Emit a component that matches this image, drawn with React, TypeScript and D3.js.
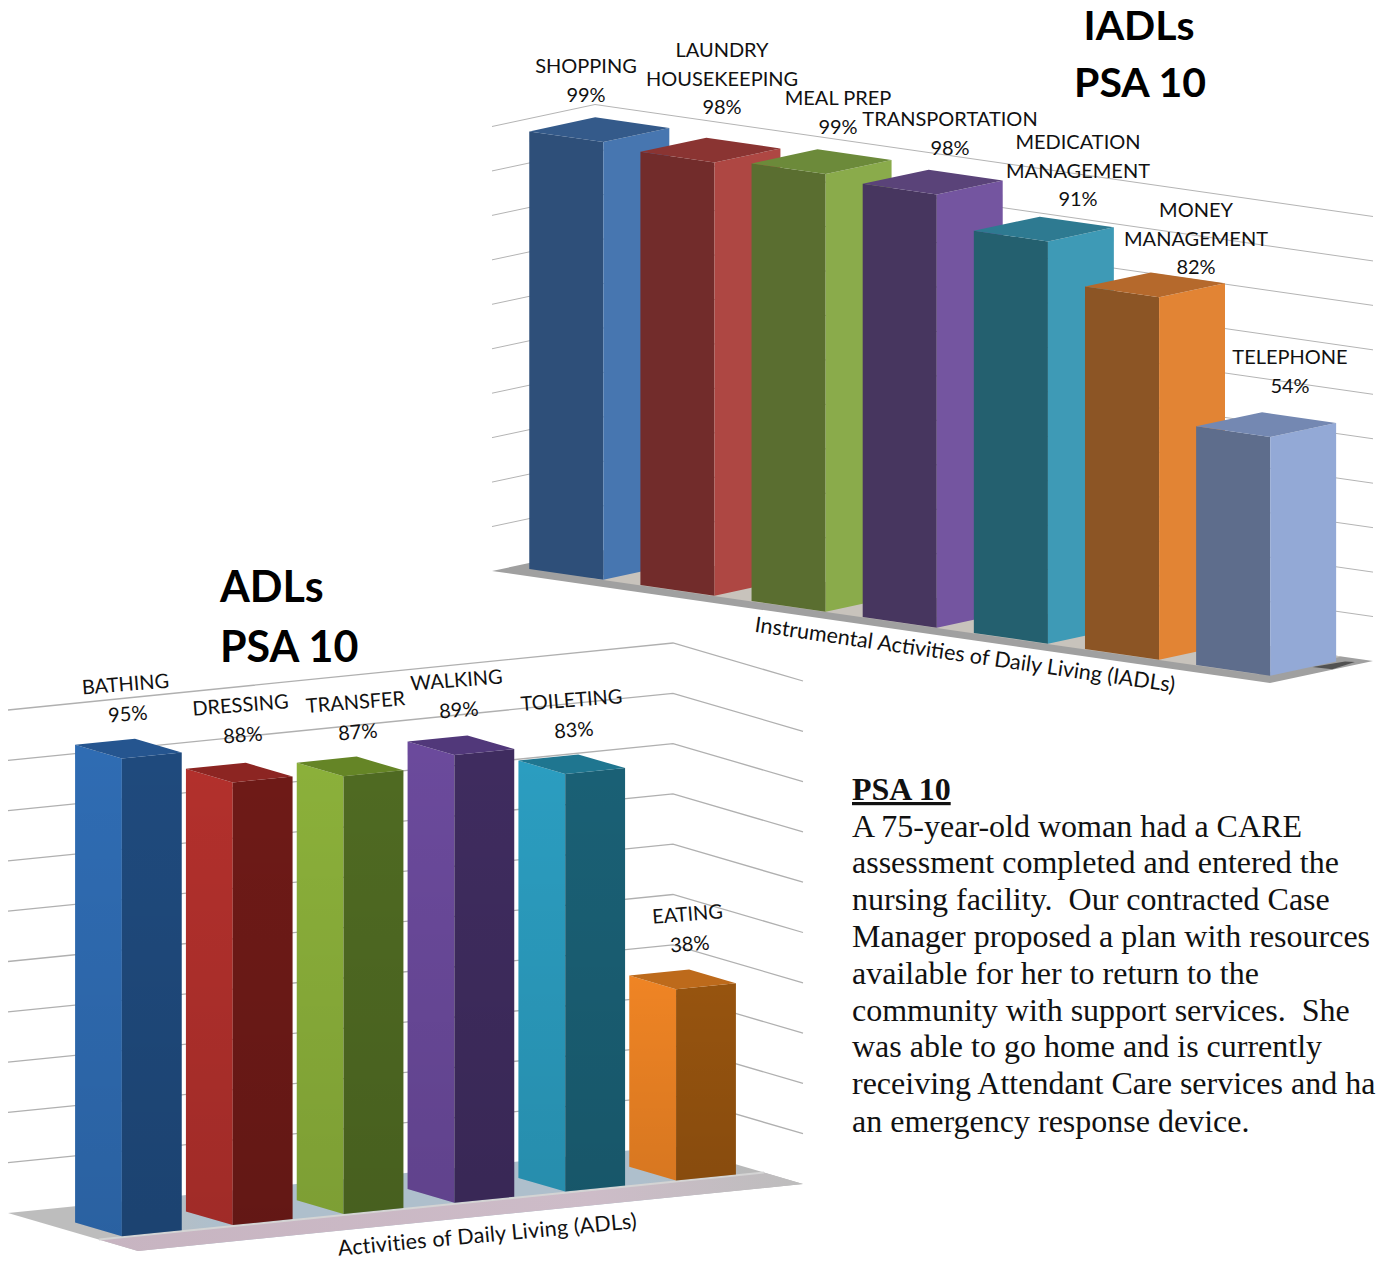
import React from "react";
import * as d3 from "d3";

// Instrumental activities
const iadlCategories = ["SHOPPING", "LAUNDRY HOUSEKEEPING", "MEAL PREP", "TRANSPORTATION", "MEDICATION MANAGEMENT", "MONEY MANAGEMENT", "TELEPHONE"];
const iadlValues = [99, 98, 99, 98, 91, 82, 54];
const iadlLabelLines = [["SHOPPING"], ["LAUNDRY", "HOUSEKEEPING"], ["MEAL PREP"], ["TRANSPORTATION"], ["MEDICATION", "MANAGEMENT"], ["MONEY", "MANAGEMENT"], ["TELEPHONE"]];
const iadlLabelAt = [[586, 73], [722, 57], [838, 105], [950, 126], [1078, 149], [1196, 217], [1290, 364]];
const iadlPalette = [
  ["#2e4f79", "#4776b0", "#345a8a"],
  ["#722c2b", "#ae4743", "#8a3432"],
  ["#5a6e30", "#8aab4b", "#6c8a3a"],
  ["#47365f", "#7455a0", "#5a4379"],
  ["#24606f", "#3e9ab6", "#2e7a91"],
  ["#8c5525", "#e28434", "#b5692c"],
  ["#5e6d8c", "#93a9d6", "#7488b2"],
];

// Basic activities
const adlCategories = ["BATHING", "DRESSING", "TRANSFER", "WALKING", "TOILETING", "EATING"];
const adlValues = [95, 88, 87, 89, 83, 38];
const adlLabelLines = adlCategories.map((c) => [c]);
const adlLabelAt = [[126, 691], [241, 712], [356, 709], [457, 687], [572, 707], [688, 921]];
const adlPalette = [
  ["#2f6cb3", "#1f4a7d", "#25558f"],
  ["#b2302c", "#6e1a17", "#8c2522"],
  ["#8bb03a", "#4f6a22", "#658526"],
  ["#6b4a9c", "#3f2c5f", "#51387a"],
  ["#2b9dc0", "#1a6075", "#1f7690"],
  ["#ef8424", "#97540f", "#bd6a1b"],
];

const bodyLines = [
  "A 75-year-old woman had a CARE",
  "assessment completed and entered the",
  "nursing facility.  Our contracted Case",
  "Manager proposed a plan with resources",
  "available for her to return to the",
  "community with support services.  She",
  "was able to go home and is currently",
  "receiving Attendant Care services and ha",
  "an emergency response device.",
];
const bodyBaselines = [837, 873, 910, 947, 984, 1021, 1057, 1094, 1132];

const LABEL_FONT = "Lato, Carlito, sans-serif";
type Pt = [number, number];

// Oblique floor plane: u runs along the categories, d runs across the depth.
function makePlane(origin: Pt, uAxis: Pt, dAxis: Pt, wallHeight: number, barHeight: number) {
  const rise = d3.scaleLinear().domain([0, 100]).range([0, wallHeight]);
  const barRise = d3.scaleLinear().domain([0, 100]).range([0, barHeight]);
  const at = (u: number, d: number, lift: number): Pt => [
    origin[0] + u * uAxis[0] + d * dAxis[0],
    origin[1] + u * uAxis[1] + d * dAxis[1] - lift,
  ];
  return {
    rise,
    wall: (u: number, d: number, v = 0) => at(u, d, rise(v)),
    project: (u: number, d: number, v = 0) => at(u, d, barRise(v)),
  };
}
const poly = (pts: Pt[]) => (d3.line()(pts) || "") + "Z";

function Face({ pts, fill, shade }: { pts: Pt[]; fill: string; shade?: boolean }) {
  const d = poly(pts);
  return (
    <g>
      <path d={d} fill={fill} />
      {shade && <path d={d} fill="url(#barShade)" />}
    </g>
  );
}

function Labels({ lines, values, at, rotate, lineGap, size }: { lines: string[][]; values: number[]; at: number[][]; rotate: number; lineGap: number; size: number }) {
  return (
    <g fontFamily={LABEL_FONT} fontSize={size} fill="#111" textAnchor="middle">
      {lines.map((ls, i) => (
        <text key={i} transform={`translate(${at[i][0]},${at[i][1]}) rotate(${rotate})`}>
          {ls.map((l, j) => (
            <tspan key={j} x={0} y={j * lineGap}>{l}</tspan>
          ))}
          <tspan x={0} y={ls.length * lineGap}>{values[i]}%</tspan>
        </text>
      ))}
    </g>
  );
}

function IadlChart() {
  const { rise, wall, project } = makePlane([492, 571], [778, 112], [103, -22], 444.5, 442);
  const band = d3.scaleBand<number>().domain(d3.range(iadlValues.length)).range([0, 1]).paddingInner(1 / 3).paddingOuter(1 / 6).align(0.45);
  const d0 = 0.2;
  const d1 = 0.84;
  const grid = rise.ticks(10).filter((t) => t > 0);
  return (
    <g>
      <path d={poly([wall(0, 0), wall(0, 1), wall(1, 1), wall(1, 0)])} fill="#a0a0a0" />
      <path d={poly([wall(0.1, 0.19), wall(0.1, 1), wall(0.96, 1), wall(0.96, 0.19)])} fill="#c8c3bc" />
      <path d={poly([wall(0.975, 0.6), wall(0.998, 0.62), wall(0.99, 0.9), wall(0.98, 0.88)])} fill="#3e3e3e" opacity={0.8} />
      {grid.map((t) => (
        <path key={t} d={d3.line()([wall(0, 0, t), wall(0, 1, t), wall(1, 1, t)]) || ""} fill="none" stroke="#b4b4b4" strokeWidth={1} />
      ))}
      {iadlValues.map((v, i) => {
        const u0 = band(i)!;
        const u1 = u0 + band.bandwidth();
        const [cL, cR, cT] = iadlPalette[i];
        return (
          <g key={iadlCategories[i]}>
            <Face pts={[project(u0, d0), project(u1, d0), project(u1, d0, v), project(u0, d0, v)]} fill={cL} />
            <Face pts={[project(u1, d0), project(u1, d1), project(u1, d1, v), project(u1, d0, v)]} fill={cR} />
            <Face pts={[project(u0, d0, v), project(u1, d0, v), project(u1, d1, v), project(u0, d1, v)]} fill={cT} />
          </g>
        );
      })}
      <Labels lines={iadlLabelLines} values={iadlValues} at={iadlLabelAt} rotate={0} lineGap={28.7} size={20} />
      <text transform="translate(964,662) rotate(8.2)" fontFamily={LABEL_FONT} fontSize={21.5} fill="#111" textAnchor="middle">
        Instrumental Activities of Daily Living (IADLs)
      </text>
      <g fontFamily={LABEL_FONT} fontWeight={700} fontSize={41} fill="#000" textAnchor="middle">
        <text x={1139} y={40}>IADLs</text>
        <text x={1140} y={97}>PSA 10</text>
      </g>
    </g>
  );
}

function AdlChart() {
  const { rise, wall, project } = makePlane([8, 1213], [665, -67], [130, 38], 503, 503);
  const band = d3.scaleBand<number>().domain(d3.range(adlValues.length)).range([0, 1]).paddingInner(0.46).paddingOuter(0.23);
  const d0 = 0.32;
  const d1 = 0.68;
  const grid = rise.ticks(10).filter((t) => t > 0);
  // Bars nearer the viewer sit on the left, so paint from the right.
  const order = d3.range(adlValues.length).reverse();
  return (
    <g>
      <path d={poly([wall(0, 0), wall(1, 0), wall(1, 1), wall(0, 1)])} fill="url(#adlFloor)" />
      <path d={poly([wall(0, 0.7), wall(1, 0.7), wall(1, 1), wall(0, 1)])} fill="url(#adlStrip)" />
      <path d={d3.line()([wall(0, 0.7), wall(1, 0.7)]) || ""} stroke="#d4d4d4" strokeWidth={2} fill="none" />
      {grid.map((t) => (
        <path key={t} d={d3.line()([wall(0, 0, t), wall(1, 0, t), wall(1, 1, t)]) || ""} fill="none" stroke="#b0b0b0" strokeWidth={1.3} />
      ))}
      {order.map((i) => {
        const v = adlValues[i];
        const u0 = band(i)!;
        const u1 = u0 + band.bandwidth();
        const [cL, cR, cT] = adlPalette[i];
        return (
          <g key={adlCategories[i]}>
            <Face pts={[project(u0, d0), project(u0, d1), project(u0, d1, v), project(u0, d0, v)]} fill={cL} shade />
            <Face pts={[project(u0, d1), project(u1, d1), project(u1, d1, v), project(u0, d1, v)]} fill={cR} shade />
            <Face pts={[project(u0, d0, v), project(u1, d0, v), project(u1, d1, v), project(u0, d1, v)]} fill={cT} />
          </g>
        );
      })}
      <Labels lines={adlLabelLines} values={adlValues} at={adlLabelAt} rotate={-4.5} lineGap={30} size={20} />
      <text transform="translate(488,1242) rotate(-5.3)" fontFamily={LABEL_FONT} fontSize={21.5} fill="#111" textAnchor="middle" letterSpacing={0.2}>
        Activities of Daily Living (ADLs)
      </text>
      <g fontFamily={LABEL_FONT} fontWeight={700} fontSize={43} fill="#000">
        <text x={220} y={602}>ADLs</text>
        <text x={220} y={662}>PSA 10</text>
      </g>
    </g>
  );
}

export default function App() {
  return (
    <svg width={1377} height={1261} viewBox="0 0 1377 1261" style={{ position: "absolute", left: 0, top: 0, background: "#fff" }}>
      <defs>
        <linearGradient id="barShade" x1="0" y1="0" x2="0" y2="1">
          <stop offset="0" stopColor="#000" stopOpacity={0} />
          <stop offset="1" stopColor="#000" stopOpacity={0.1} />
        </linearGradient>
        <linearGradient id="adlFloor" x1="0" y1="0" x2="1" y2="0">
          <stop offset="0" stopColor="#bdbdbd" />
          <stop offset="0.14" stopColor="#bdbdbd" />
          <stop offset="0.26" stopColor="#aebfcc" />
          <stop offset="0.8" stopColor="#aebfcc" />
          <stop offset="0.93" stopColor="#b9b9b9" />
        </linearGradient>
        <linearGradient id="adlStrip" x1="0" y1="0" x2="1" y2="0">
          <stop offset="0" stopColor="#c7b4c1" />
          <stop offset="0.7" stopColor="#cdbcc8" />
          <stop offset="1" stopColor="#bdbdbd" />
        </linearGradient>
      </defs>
      <IadlChart />
      <AdlChart />
      <g fontFamily="'Liberation Serif', serif" fontSize={32} fill="#111">
        <text x={852} y={800} fontWeight={700} textDecoration="underline">PSA 10</text>
        {bodyLines.map((l, i) => (
          <text key={i} x={852} y={bodyBaselines[i]} xmlSpace="preserve">{l}</text>
        ))}
      </g>
    </svg>
  );
}
